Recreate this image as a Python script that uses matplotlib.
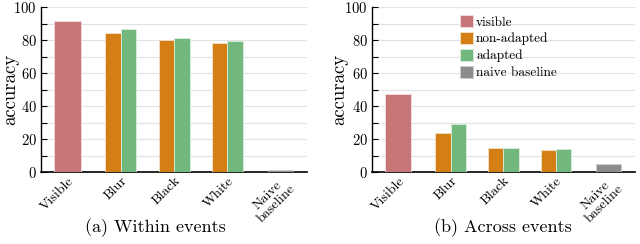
import matplotlib
matplotlib.use("Agg")
import matplotlib.pyplot as plt
import numpy as np

plt.rcParams['font.family'] = ['cmr10', 'DejaVu Serif']
plt.rcParams['axes.formatter.use_mathtext'] = True

categories = ["Visible", "Blur", "Black", "White", "Naive\nbaseline"]
series_names = ["visible", "non-adapted", "adapted", "naive baseline"]
colors = ["#c77677", "#d47f16", "#72b77b", "#8c8c8c"]

# panel (a) Within events
within_visible = 91.5
within_nonadapted = [84.5, 80.0, 78.5]
within_adapted = [86.5, 81.0, 79.5]
within_naive = 1.0

# panel (b) Across events
across_visible = 47.5
across_nonadapted = [23.5, 14.3, 13.2]
across_adapted = [29.0, 14.8, 13.7]
across_naive = 4.8

subtitles = ["(a) Within events", "(b) Across events"]

fig = plt.figure(figsize=(6.4, 2.44), dpi=100)
ax1 = fig.add_axes([0.064, 0.295, 0.416, 0.676])
ax2 = fig.add_axes([0.581, 0.295, 0.411, 0.676])

def draw(ax, vis, nonad, ad, naive, subtitle, xc, ylx, legend=False):
    x = np.arange(len(categories))
    bw = 0.29
    h1 = ax.bar(x[0], vis, width=0.5, color=colors[0], edgecolor="#f3dede", linewidth=0.6, zorder=3)
    h2 = ax.bar(x[1:4] - bw/2, nonad, width=bw, color=colors[1], edgecolor="#f3e2c8", linewidth=0.6, zorder=3)
    h3 = ax.bar(x[1:4] + bw/2, ad, width=bw, color=colors[2], edgecolor="#dcefdc", linewidth=0.6, zorder=3)
    h4 = ax.bar(x[4], naive, width=0.48, color=colors[3], edgecolor="#cfcfcf", linewidth=0.6, zorder=3)
    ax.set_xlim(-0.5, 4.5)
    ax.set_ylim(0, 100)
    ax.set_yticks(np.arange(0, 101, 20))
    ax.set_yticks(np.arange(10, 100, 20), minor=True)
    ax.grid(axis='y', which='both', color="#e3e3e3", linewidth=0.9, zorder=0)
    ax.set_axisbelow(True)
    for s in ['top', 'right']:
        ax.spines[s].set_visible(False)
    ax.spines['left'].set_linewidth(1.0)
    ax.spines['bottom'].set_linewidth(1.2)
    ax.tick_params(axis='y', which='both', direction='in', length=4, width=0.8, labelsize=10.5, pad=3)
    ax.tick_params(axis='x', length=0, labelsize=10, pad=2)
    ax.set_xticks(x)
    ax.set_xticklabels(categories, rotation=45, ha='right', va='top', rotation_mode='anchor',
                       multialignment='center', linespacing=0.95)
    fig.text(ylx, 0.295 + 0.676 / 2, "accuracy", rotation=90, ha='center', va='center', fontsize=13.5)
    fig.text(xc, 0.066, subtitle, ha='center', va='center', fontsize=13)
    if legend:
        ax.legend([h1, h2, h3, h4], series_names, loc='upper left', bbox_to_anchor=(0.305, 1.0),
                  frameon=False, fontsize=9.6, handlelength=1.0, handleheight=1.0,
                  handletextpad=0.2, labelspacing=0.25, borderaxespad=0.2)

draw(ax1, within_visible, within_nonadapted, within_adapted, within_naive, subtitles[0], 155/640, 10/640)
draw(ax2, across_visible, across_nonadapted, across_adapted, across_naive, subtitles[1], 503/640, 339/640, legend=True)

fig.savefig("out.png", dpi=100)
